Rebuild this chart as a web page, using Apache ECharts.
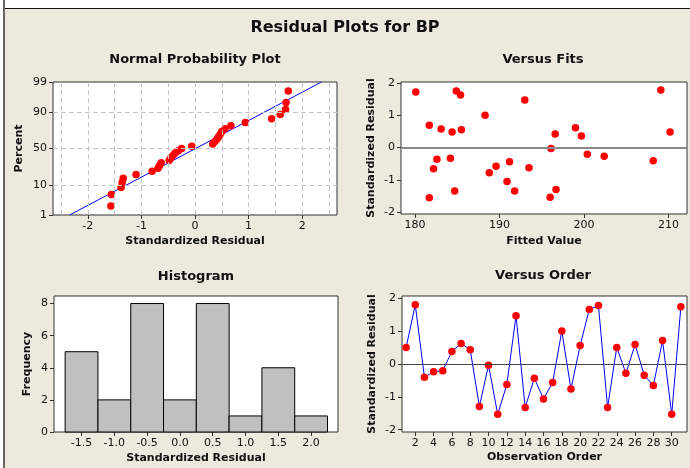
<!DOCTYPE html>
<html><head><meta charset="utf-8">
<script src="https://cdn.jsdelivr.net/npm/echarts@6/dist/echarts.min.js"></script>
<style>
html,body{margin:0;padding:0;background:#fff;}
#wrap{position:relative;width:690px;height:468px;overflow:hidden;}
#chart{position:absolute;left:0;top:0;width:690px;height:468px;}
#topStrip{position:absolute;left:0;top:0;width:690px;height:8px;background:#fff;border-bottom:1px solid #111;}
#leftStrip{position:absolute;left:0;top:0;width:3px;height:468px;background:#fff;border-right:2px solid #666;}
</style></head>
<body><div id="wrap"><div id="chart"></div><div id="topStrip"></div><div id="leftStrip"></div></div>
<script>
// ---------- data ----------
const mainTitle = "Residual Plots for BP";
// Normal probability plot (standardized residual vs percent)
const probResid = [-1.57,-1.56,-1.38,-1.36,-1.34,-1.10,-0.80,-0.69,-0.66,-0.63,-0.48,-0.45,-0.41,-0.37,-0.31,-0.25,-0.06,0.33,0.37,0.41,0.44,0.47,0.50,0.56,0.67,0.94,1.43,1.59,1.69,1.70,1.74];
const probPct = [2.2,5.4,8.6,11.8,15.0,18.2,21.3,24.5,27.7,30.9,34.1,37.3,40.4,43.6,46.8,50.0,53.2,56.4,59.6,62.7,65.9,69.1,72.3,75.5,78.7,81.8,85.0,88.2,91.4,94.6,97.8];
const fitLineX = [-2.34, 2.36];
const fitLinePct = [1, 99];
const probPctTicks = [1, 10, 50, 90, 99];
const probXTicks = [-2, -1, 0, 1, 2];
const probXGrid = [-2.5, -2, -1.5, -1, -0.5, 0, 0.5, 1, 1.5, 2, 2.5];
// Versus fits
const fittedValues = [180.1,181.7,181.7,182.2,182.6,183.1,184.2,184.4,184.7,184.9,185.4,185.5,188.3,188.8,189.6,190.9,191.2,191.8,193.0,193.5,196.1,196.0,196.6,196.7,199.0,199.7,200.4,202.4,208.2,209.1,210.2];
const fitsResid = [1.72,0.69,-1.56,-0.66,-0.36,0.57,-0.33,0.48,-1.35,1.75,1.63,0.55,1.00,-0.78,-0.58,-1.05,-0.44,-1.35,1.47,-0.63,-0.03,-1.54,0.42,-1.30,0.61,0.36,-0.21,-0.27,-0.41,1.78,0.48];
const fitsXTicks = [180, 190, 200, 210];
const residYTicks = [-2, -1, 0, 1, 2];
// Histogram
const binCenters = [-1.5,-1.0,-0.5,0.0,0.5,1.0,1.5,2.0];
const binCounts = [5,2,8,2,8,1,4,1];
const binWidth = 0.5;
const histYTicks = [0, 2, 4, 6, 8];
// Versus order
const orderResid = [0.51,1.81,-0.40,-0.23,-0.20,0.39,0.63,0.44,-1.29,-0.03,-1.53,-0.62,1.48,-1.32,-0.43,-1.06,-0.56,1.01,-0.76,0.57,1.67,1.79,-1.32,0.51,-0.28,0.60,-0.34,-0.65,0.72,-1.53,1.75];
const orderXTicks = [2,4,6,8,10,12,14,16,18,20,22,24,26,28,30];

// ---------- helpers ----------
function probit(p){
  const a=[-3.969683028665376e+01,2.209460984245205e+02,-2.759285104469687e+02,1.383577518672690e+02,-3.066479806614716e+01,2.506628277459239e+00];
  const b=[-5.447609879822406e+01,1.615858368580409e+02,-1.556989798598866e+02,6.680131188771972e+01,-1.328068155288572e+01];
  const c=[-7.784894002430293e-03,-3.223964687770130e-01,-2.400758276161838e+00,-2.549732539343734e+00,4.374664141464968e+00,2.938163982698783e+00];
  const d=[7.784695709041462e-03,3.224671290700398e-01,2.445134137142996e+00,3.754408661907416e+00];
  const pl=0.02425, ph=1-pl;
  if(p<pl){const q=Math.sqrt(-2*Math.log(p));return (((((c[0]*q+c[1])*q+c[2])*q+c[3])*q+c[4])*q+c[5])/((((d[0]*q+d[1])*q+d[2])*q+d[3])*q+1);}
  if(p<=ph){const q=p-0.5,r=q*q;return (((((a[0]*r+a[1])*r+a[2])*r+a[3])*r+a[4])*r+a[5])*q/(((((b[0]*r+b[1])*r+b[2])*r+b[3])*r+b[4])*r+1);}
  const q=Math.sqrt(-2*Math.log(1-p));return -(((((c[0]*q+c[1])*q+c[2])*q+c[3])*q+c[4])*q+c[5])/((((d[0]*q+d[1])*q+d[2])*q+d[3])*q+1);
}
const zOf = pct => probit(pct/100);
const probZTicks = probPctTicks.map(zOf);

const FONT = 'DejaVu Sans';
const TXT = '#111';
function axisCommon(extra){
  return Object.assign({
    type:'value', scale:true,
    axisLine:{show:false, onZero:false},
    axisTick:{show:true, inside:false, length:4, lineStyle:{color:'#333', width:1}},
    axisLabel:{show:true, color:TXT, fontFamily:FONT, fontSize:11, margin:6},
    splitLine:{show:false},
    nameLocation:'middle',
    nameTextStyle:{color:TXT, fontFamily:FONT, fontSize:11, fontWeight:'bold'}
  }, extra);
}
const gridCommon = {show:true, backgroundColor:'#fff', borderColor:'#333', borderWidth:1, containLabel:false, outerBoundsMode:'none'};
const lab = vals => ({color:TXT, fontFamily:FONT, fontSize:11, margin:6, customValues:vals});
const tick = vals => ({show:true, length:4, lineStyle:{color:'#333'}, customValues:vals});

const chart = echarts.init(document.getElementById('chart'), null, {renderer:'canvas'});
const dashStyle = {color:'#c4c4c4', width:1, type:[5,3]};
const dot = {color:'#ff0000', opacity:1};

const option = {
  animation:false,
  backgroundColor:'#ede9df',
  textStyle:{fontFamily:FONT},
  graphic:[
    {type:'text', x:345, y:28, style:{text:mainTitle, fill:TXT, font:'bold 16px "DejaVu Sans"', align:'center', verticalAlign:'middle'}},
    {type:'text', x:195, y:60, style:{text:'Normal Probability Plot', fill:TXT, font:'bold 13px "DejaVu Sans"', align:'center', verticalAlign:'middle'}},
    {type:'text', x:543, y:60, style:{text:'Versus Fits', fill:TXT, font:'bold 13px "DejaVu Sans"', align:'center', verticalAlign:'middle'}},
    {type:'text', x:196, y:277, style:{text:'Histogram', fill:TXT, font:'bold 13px "DejaVu Sans"', align:'center', verticalAlign:'middle'}},
    {type:'text', x:543, y:276, style:{text:'Versus Order', fill:TXT, font:'bold 13px "DejaVu Sans"', align:'center', verticalAlign:'middle'}}
  ],
  grid:[
    Object.assign({left:53, top:82, width:284, height:133}, gridCommon),
    Object.assign({left:401, top:82, width:286, height:132}, gridCommon),
    Object.assign({left:54, top:296, width:284, height:136}, gridCommon),
    Object.assign({left:402, top:296, width:285, height:136}, gridCommon)
  ],
  xAxis:[
    axisCommon({gridIndex:0, min:-2.65, max:2.65, name:'Standardized Residual', nameGap:21,
      axisLabel:lab(probXTicks), axisTick:tick(probXTicks)}),
    axisCommon({gridIndex:1, min:178.35, max:212.2, name:'Fitted Value', nameGap:22,
      axisLabel:lab(fitsXTicks), axisTick:tick(fitsXTicks)}),
    axisCommon({gridIndex:2, min:-1.92, max:2.41, name:'Standardized Residual', nameGap:21,
      axisLabel:Object.assign(lab(binCenters), {formatter:v=>v.toFixed(1)}), axisTick:tick(binCenters)}),
    axisCommon({gridIndex:3, min:0.55, max:31.67, name:'Observation Order', nameGap:20,
      axisLabel:lab(orderXTicks), axisTick:tick(orderXTicks)})
  ],
  yAxis:[
    axisCommon({gridIndex:0, min:zOf(1), max:zOf(99), name:'Percent', nameGap:28,
      axisLabel:Object.assign(lab(probZTicks), {
        formatter:v=>{let best=0,bd=1e9;probZTicks.forEach((z,i)=>{const dd=Math.abs(z-v);if(dd<bd){bd=dd;best=i;}});return String(probPctTicks[best]);}}),
      axisTick:tick(probZTicks)}),
    axisCommon({gridIndex:1, min:-2.06, max:2.03, name:'Standardized Residual', nameGap:24,
      axisLabel:lab(residYTicks), axisTick:tick(residYTicks)}),
    axisCommon({gridIndex:2, min:0, max:8.47, name:'Frequency', nameGap:21,
      axisLabel:lab(histYTicks), axisTick:tick(histYTicks)}),
    axisCommon({gridIndex:3, min:-2.07, max:2.08, name:'Standardized Residual', nameGap:24,
      axisLabel:lab(residYTicks), axisTick:tick(residYTicks)})
  ],
  series:[
    // probability plot gridlines
    {type:'line', xAxisIndex:0, yAxisIndex:0, data:[], silent:true, z:1,
      markLine:{silent:true, symbol:['none','none'], label:{show:false}, lineStyle:dashStyle, animation:false,
        data: probXGrid.map(v=>({xAxis:v})).concat(probZTicks.slice(1,-1).map(v=>({yAxis:v})))}},
    {type:'line', xAxisIndex:0, yAxisIndex:0, z:2, symbol:'none', silent:true,
      lineStyle:{color:'#0000ff', width:1},
      data: fitLineX.map((x,i)=>[x, zOf(fitLinePct[i])])},
    {type:'scatter', xAxisIndex:0, yAxisIndex:0, z:3, symbolSize:7.5, itemStyle:dot,
      data: probResid.map((x,i)=>[x, zOf(probPct[i])])},
    // versus fits
    {type:'scatter', xAxisIndex:1, yAxisIndex:1, z:3, symbolSize:7.5, itemStyle:dot,
      data: fittedValues.map((x,i)=>[x, fitsResid[i]]),
      markLine:{silent:true, symbol:['none','none'], label:{show:false}, animation:false,
        lineStyle:{color:'#888', width:2, type:'solid'}, data:[{yAxis:0}]}},
    // histogram
    {type:'custom', xAxisIndex:2, yAxisIndex:2, z:2,
      data: binCenters.map((c,i)=>[c, binCounts[i]]),
      renderItem:(params, api)=>{
        const c = api.value(0), n = api.value(1);
        const p1 = api.coord([c - binWidth/2, n]);
        const p2 = api.coord([c + binWidth/2, 0]);
        return {type:'rect', shape:{x:p1[0], y:p1[1], width:p2[0]-p1[0], height:p2[1]-p1[1]},
          style:{fill:'#c0c0c0', stroke:'#000', lineWidth:1}};
      }},
    // versus order
    {type:'line', xAxisIndex:3, yAxisIndex:3, z:3, symbol:'circle', symbolSize:7.5,
      lineStyle:{color:'#0000ff', width:1}, itemStyle:dot,
      data: orderResid.map((r,i)=>[i+1, r]),
      markLine:{silent:true, symbol:['none','none'], label:{show:false}, animation:false,
        lineStyle:{color:'#444', width:1, type:'solid'}, data:[{yAxis:0}]}}
  ]
};
chart.setOption(option);
</script></body></html>
